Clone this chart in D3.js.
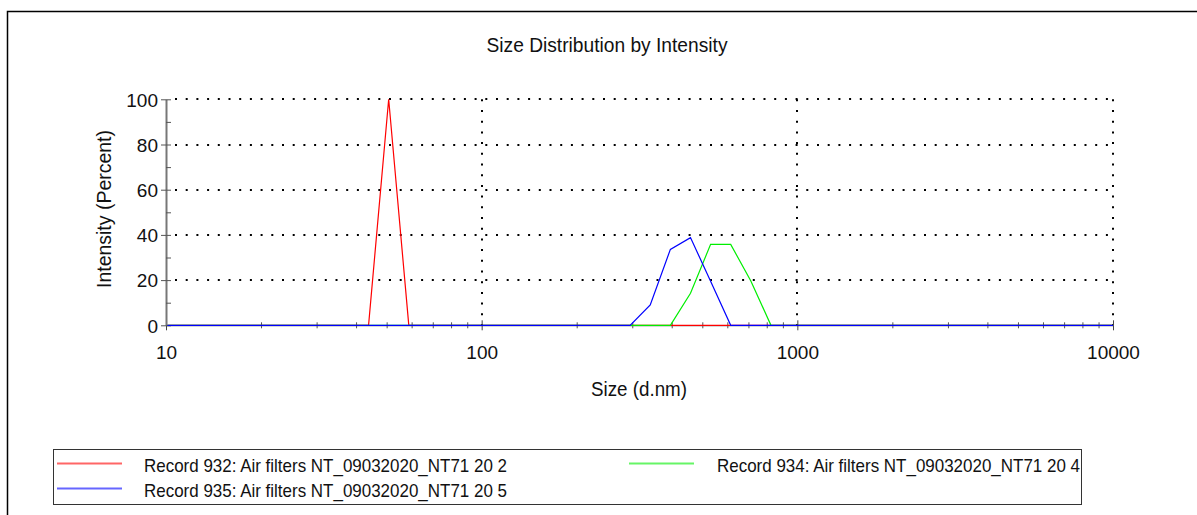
<!DOCTYPE html>
<html>
<head>
<meta charset="utf-8">
<script src="https://cdn.jsdelivr.net/npm/d3@7"></script>
<style>
  body { margin: 0; background: #fff; }
  svg { display: block; font-family: Arial, "Liberation Sans", sans-serif; }
  .tick text { fill: #111; }
</style>
</head>
<body>
<div id="chart"></div>
<script>
// Size bins (d.nm)
const sizes = [10.10, 11.70, 13.54, 15.69, 18.17, 21.04, 24.36, 28.21, 32.67, 37.84,
  43.82, 50.75, 58.77, 68.06, 78.82, 91.28, 105.7, 122.4, 141.8, 164.2,
  190.1, 220.2, 255.0, 295.3, 342.0, 396.1, 458.7, 531.2, 615.1, 712.4,
  825.0, 955.4, 1106, 1281, 1484, 1718, 1990, 2305, 2669, 3091,
  3580, 4145, 4801, 5560, 6439, 7456, 8635, 10000];

// Intensity (%) per record
const record932 = [0, 0, 0, 0, 0, 0, 0, 0, 0, 0,
  0, 100, 0, 0, 0, 0, 0, 0, 0, 0,
  0, 0, 0, 0, 0, 0, 0, 0, 0, 0,
  0, 0, 0, 0, 0, 0, 0, 0, 0, 0,
  0, 0, 0, 0, 0, 0, 0, 0];
const record934 = [0, 0, 0, 0, 0, 0, 0, 0, 0, 0,
  0, 0, 0, 0, 0, 0, 0, 0, 0, 0,
  0, 0, 0, 0, 0, 0, 14.2, 35.8, 35.8, 19.6,
  0, 0, 0, 0, 0, 0, 0, 0, 0, 0,
  0, 0, 0, 0, 0, 0, 0, 0];
const record935 = [0, 0, 0, 0, 0, 0, 0, 0, 0, 0,
  0, 0, 0, 0, 0, 0, 0, 0, 0, 0,
  0, 0, 0, 0, 9.0, 33.6, 38.8, 19.5, 0, 0,
  0, 0, 0, 0, 0, 0, 0, 0, 0, 0,
  0, 0, 0, 0, 0, 0, 0, 0];

const series = [
  { name: "Record 932: Air filters NT_09032020_NT71 20 2", color: "#ff0000", values: record932 },
  { name: "Record 934: Air filters NT_09032020_NT71 20 4", color: "#00ee00", values: record934 },
  { name: "Record 935: Air filters NT_09032020_NT71 20 5", color: "#0000ff", values: record935 }
];

const xTicks = [10, 100, 1000, 10000];
const yTicks = [0, 20, 40, 60, 80, 100];
const yMinor = [0, 10, 20, 30, 40, 50, 60, 70, 80, 90, 100];
const xMinor = [20, 30, 40, 50, 60, 70, 80, 90, 200, 300, 400, 500, 600, 700, 800, 900,
  2000, 3000, 4000, 5000, 6000, 7000, 8000, 9000];

const width = 1197, height = 515;
const svg = d3.select("#chart").append("svg")
  .attr("width", width)
  .attr("height", height);

// outer frame (runs off the right and bottom edges)
svg.append("rect")
  .attr("x", 7.5).attr("y", 11.5)
  .attr("width", 1220).attr("height", 540)
  .attr("fill", "none")
  .attr("stroke", "#000")
  .attr("stroke-width", 1.5);

const x = d3.scaleLog().domain([10, 10000]).range([166, 1113]);
const y = d3.scaleLinear().domain([0, 100]).range([325.3, 99.3]);

// title
svg.append("text")
  .attr("x", 607).attr("y", 52)
  .attr("text-anchor", "middle")
  .attr("font-size", 20)
  .attr("textLength", 241)
  .attr("lengthAdjust", "spacingAndGlyphs")
  .attr("fill", "#111")
  .text("Size Distribution by Intensity");

// dotted grid
const grid = svg.append("g")
  .attr("stroke", "#000")
  .attr("stroke-width", 2)
  .attr("stroke-dasharray", "2 8.7");

grid.selectAll("line.h")
  .data(yTicks.filter(d => d > 0))
  .join("line")
  .attr("class", "h")
  .attr("x1", x(10) + 9).attr("x2", x(10000))
  .attr("y1", d => Math.round(y(d))).attr("y2", d => Math.round(y(d)));

grid.selectAll("line.v")
  .data(xTicks.filter(d => d > 10))
  .join("line")
  .attr("class", "v")
  .attr("x1", d => Math.round(x(d))).attr("x2", d => Math.round(x(d)))
  .attr("y1", y(100)).attr("y2", y(0));

// x axis
const xAxisG = svg.append("g").attr("transform", `translate(0,${y(0)})`);
xAxisG.append("g")
  .call(d3.axisBottom(x).tickValues(xTicks).tickFormat(d3.format("d"))
    .tickSizeInner(5).tickSizeOuter(0).tickPadding(15))
  .call(g => g.selectAll("text").attr("font-size", 19))
  .call(g => g.select(".domain").attr("stroke", "#777"))
  .call(g => g.selectAll(".tick line").attr("stroke", "#444"));
xAxisG.append("g")
  .call(d3.axisTop(x).tickValues(xTicks).tickFormat("").tickSizeInner(5).tickSizeOuter(0))
  .call(g => g.select(".domain").remove())
  .call(g => g.selectAll(".tick line").attr("stroke", "#444"));
xAxisG.append("g")
  .call(d3.axisBottom(x).tickValues(xMinor).tickFormat("").tickSizeInner(3).tickSizeOuter(0))
  .call(g => g.select(".domain").remove())
  .call(g => g.selectAll(".tick line").attr("stroke", "#555"));
xAxisG.append("g")
  .call(d3.axisTop(x).tickValues(xMinor).tickFormat("").tickSizeInner(3).tickSizeOuter(0))
  .call(g => g.select(".domain").remove())
  .call(g => g.selectAll(".tick line").attr("stroke", "#555"));

// y axis
const yAxisG = svg.append("g").attr("transform", `translate(${x(10)},0)`);
yAxisG.append("g")
  .call(d3.axisLeft(y).tickValues(yTicks).tickSizeInner(5).tickSizeOuter(0).tickPadding(3))
  .call(g => g.selectAll("text").attr("font-size", 19).attr("dy", "0.36em"))
  .call(g => g.select(".domain").attr("stroke", "#777").attr("stroke-width", 2))
  .call(g => g.selectAll(".tick line").attr("stroke", "#555"));
yAxisG.append("g")
  .call(d3.axisRight(y).tickValues(yMinor).tickFormat("").tickSizeInner(5).tickSizeOuter(0))
  .call(g => g.select(".domain").remove())
  .call(g => g.selectAll(".tick line").attr("stroke", "#555"));

// axis titles
svg.append("text")
  .attr("x", 639).attr("y", 396)
  .attr("text-anchor", "middle")
  .attr("font-size", 20)
  .attr("textLength", 96)
  .attr("lengthAdjust", "spacingAndGlyphs")
  .attr("fill", "#111")
  .text("Size (d.nm)");

svg.append("text")
  .attr("transform", "translate(111,209) rotate(-90)")
  .attr("text-anchor", "middle")
  .attr("font-size", 20)
  .attr("textLength", 158)
  .attr("lengthAdjust", "spacingAndGlyphs")
  .attr("fill", "#111")
  .text("Intensity (Percent)");

// data lines
const line = d3.line()
  .x((d, i) => x(sizes[i]))
  .y(d => y(d));

svg.append("g")
  .selectAll("path")
  .data(series)
  .join("path")
  .attr("d", d => line(d.values))
  .attr("fill", "none")
  .attr("stroke", d => d.color)
  .attr("stroke-width", 1.2);

// legend
const legend = svg.append("g");
legend.append("rect")
  .attr("x", 53.5).attr("y", 449.5)
  .attr("width", 1028).attr("height", 55)
  .attr("fill", "none")
  .attr("stroke", "#333")
  .attr("stroke-width", 1);

const legendItems = [
  { s: series[0], lx: 57, tx: 144, ly: 463.5 },
  { s: series[2], lx: 57, tx: 144, ly: 488.5 },
  { s: series[1], lx: 629, tx: 717, ly: 463.5 }
];

const li = legend.selectAll("g.item")
  .data(legendItems)
  .join("g")
  .attr("class", "item");

li.append("line")
  .attr("x1", d => d.lx).attr("x2", d => d.lx + 65)
  .attr("y1", d => d.ly).attr("y2", d => d.ly)
  .attr("stroke", d => d.s.color)
  .attr("stroke-opacity", 0.6)
  .attr("stroke-width", 2);

li.append("text")
  .attr("x", d => d.tx).attr("y", d => d.ly + 8.5)
  .attr("font-size", 19)
  .attr("textLength", 363)
  .attr("lengthAdjust", "spacingAndGlyphs")
  .attr("fill", "#111")
  .text(d => d.s.name);
</script>
</body>
</html>
